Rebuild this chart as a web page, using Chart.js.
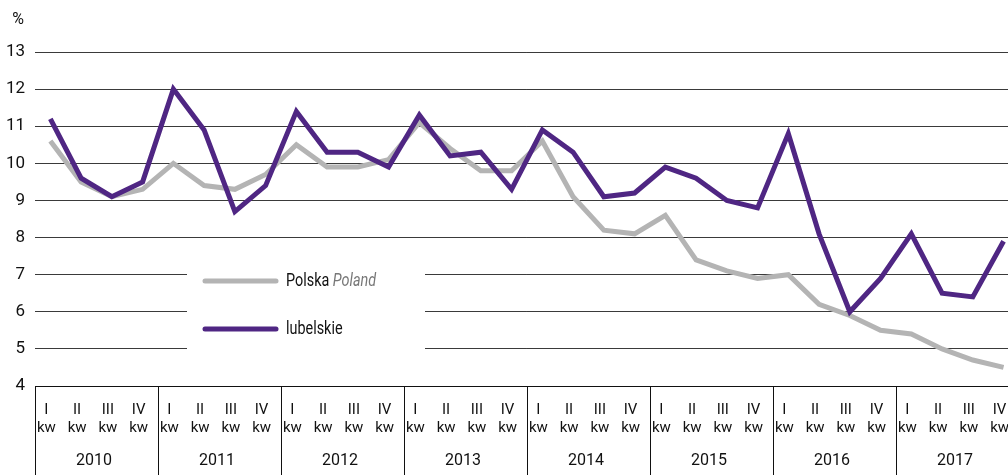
<!DOCTYPE html>
<html lang="pl">
<head>
  <meta charset="UTF-8" />
  <title>Stopa bezrobocia – lubelskie</title>
  <script src="https://cdn.jsdelivr.net/npm/chart.js"></script>
  <style>
    html, body { margin: 0; padding: 0; background: #fff; overflow: hidden; }
    #wrap { width: 1020px; height: 475px; }
  </style>
</head>
<body>
  <div id="wrap"><canvas id="chart" width="1020" height="475"></canvas></div>

  <script>
    const FONT = "'Roboto', 'Liberation Sans', sans-serif";

    // data
    const years = ['2010', '2011', '2012', '2013', '2014', '2015', '2016', '2017'];
    const quarters = ['I', 'II', 'III', 'IV'];
    const yTicks = [4, 5, 6, 7, 8, 9, 10, 11, 12, 13];
    const polska = [10.6, 9.5, 9.1, 9.3, 10.0, 9.4, 9.3, 9.7, 10.5, 9.9, 9.9, 10.1,
                    11.1, 10.4, 9.8, 9.8, 10.6, 9.1, 8.2, 8.1, 8.6, 7.4, 7.1, 6.9,
                    7.0, 6.2, 5.9, 5.5, 5.4, 5.0, 4.7, 4.5];
    const lubelskie = [11.2, 9.6, 9.1, 9.5, 12.0, 10.9, 8.7, 9.4, 11.4, 10.3, 10.3, 9.9,
                       11.3, 10.2, 10.3, 9.3, 10.9, 10.3, 9.1, 9.2, 9.9, 9.6, 9.0, 8.8,
                       10.8, 8.1, 6.0, 6.9, 8.1, 6.5, 6.4, 7.9];

    const labels = [];
    years.forEach(y => quarters.forEach(q => labels.push([q, 'kw'])));

    // narrow text helper (source font is a condensed face)
    function narrowText(c, txt, x, y, sx) {
      c.save();
      c.translate(x, y);
      c.scale(sx, 1);
      c.fillText(txt, 0, 0);
      c.restore();
      return c.measureText(txt).width * sx;
    }

    // legend box inside the plot, drawn before the lines
    const legendBox = {
      id: 'legendBox',
      beforeDatasetsDraw(chart) {
        const c = chart.ctx;
        c.save();
        c.fillStyle = '#fff';
        c.fillRect(187, 250, 238, 110);
        c.lineCap = 'round';
        c.lineWidth = 5;
        c.strokeStyle = '#b4b4b4';
        c.beginPath(); c.moveTo(205, 281); c.lineTo(276, 281); c.stroke();
        c.strokeStyle = '#4f2683';
        c.beginPath(); c.moveTo(205, 329); c.lineTo(276, 329); c.stroke();
        c.textBaseline = 'middle';
        c.font = '18px ' + FONT;
        c.fillStyle = '#111';
        const w = narrowText(c, 'Polska ', 286, 281, 0.8);
        c.font = 'italic 18px ' + FONT;
        c.fillStyle = '#777';
        narrowText(c, 'Poland', 286 + w, 281, 0.8);
        c.font = '18px ' + FONT;
        c.fillStyle = '#111';
        narrowText(c, 'lubelskie', 286, 329, 0.8);
        c.restore();
      }
    };

    // year boxes under the axis + unit label
    const yearAxis = {
      id: 'yearAxis',
      afterDraw(chart) {
        const c = chart.ctx;
        const x = chart.scales.x;
        const area = chart.chartArea;
        const step = x.getPixelForValue(1) - x.getPixelForValue(0);
        c.save();
        c.strokeStyle = '#111';
        c.lineWidth = 1;
        c.fillStyle = '#111';
        c.font = '16px ' + FONT;
        c.textAlign = 'center';
        c.textBaseline = 'middle';
        years.forEach((y, i) => {
          const left = Math.round(x.getPixelForValue(i * 4) - step / 2) + 0.5;
          c.beginPath(); c.moveTo(left, area.bottom); c.lineTo(left, chart.height); c.stroke();
          c.fillText(y, left + step * 2 - 3, 461);
        });
        c.fillText('%', 18, 20);
        c.restore();
      }
    };

    new Chart(document.getElementById('chart'), {
      type: 'line',
      data: {
        labels,
        datasets: [
          { label: 'Polska Poland', data: polska, borderColor: '#b4b4b4', borderWidth: 5, order: 2 },
          { label: 'lubelskie', data: lubelskie, borderColor: '#4f2683', borderWidth: 5, order: 1 }
        ]
      },
      options: {
        responsive: false,
        animation: false,
        events: [],
        layout: { padding: { top: 52, left: 0, right: 0, bottom: 0 } },
        elements: { point: { radius: 0 }, line: { tension: 0, borderCapStyle: 'butt', borderJoinStyle: 'miter' } },
        plugins: { legend: { display: false }, tooltip: { enabled: false } },
        scales: {
          x: {
            offset: true,
            grid: { display: false },
            border: { display: true, color: '#111', width: 1 },
            ticks: { color: '#111', font: { family: FONT, size: 15 }, padding: 7, labelOffset: -4, maxRotation: 0, autoSkip: false },
            afterFit(scale) { scale.height = 89; }
          },
          y: {
            min: 4, max: 13,
            afterBuildTicks(scale) { scale.ticks = yTicks.map(v => ({ value: v })); },
            grid: { color: '#3a3a3a', lineWidth: 1, drawTicks: false },
            border: { display: false },
            ticks: { color: '#111', font: { family: FONT, size: 17 }, padding: 10 },
            afterFit(scale) { scale.width = 35; }
          }
        }
      },
      plugins: [legendBox, yearAxis]
    });
  </script>
</body>
</html>
